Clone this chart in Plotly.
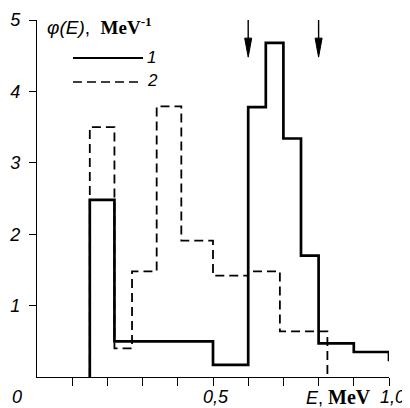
import plotly.graph_objects as go

# Histogram 1 (solid): bin edges and heights
edges1 = [0.15, 0.22, 0.50, 0.60, 0.65, 0.70, 0.75, 0.80, 0.90, 1.00]
vals1 = [2.48, 0.50, 0.17, 3.78, 4.68, 3.34, 1.70, 0.47, 0.35]
tail1 = 0.22

# Histogram 2 (dashed): bin edges and heights
edges2 = [0.15, 0.22, 0.27, 0.34, 0.41, 0.50, 0.60, 0.69, 0.825]
vals2 = [3.50, 0.40, 1.48, 3.79, 1.91, 1.42, 1.48, 0.64]

# Vertical arrows marking energies
arrow_x = [0.6, 0.8]
arrow_tip = 4.48

ytick_vals = [1, 2, 3, 4, 5]
ytick_text = ["1", "2", "3", "4", "5"]
xtick_vals = [0.1, 0.2, 0.3, 0.4, 0.5, 0.6, 0.7, 0.8, 0.9, 1.0]
xlabel_vals = [0.5, 1.0]
xlabel_text = ["0,5", "1,0"]

SANS = "Liberation Sans"
SERIF = "Liberation Serif"

# the page body adds an 8px offset; plot area spans page px 37..389 (x) and 20..377 (y)
PX0, PX1, PY0, PY1 = 37, 389, 20, 377


def px(x):
    return (x - PX0) / (PX1 - PX0)


def py(y):
    return (PY1 - y) / (PY1 - PY0)


def step_xy(edges, vals, end_y):
    xs = [edges[0]] + list(edges)
    ys = [0] + list(vals) + [end_y]
    return xs, ys


x1, y1 = step_xy(edges1, vals1, tail1)
x2, y2 = step_xy(edges2, vals2, 0)

fig = go.Figure()
fig.add_trace(go.Scatter(x=x1, y=y1, mode="lines", line_shape="hv",
                         line=dict(color="black", width=2.7),
                         showlegend=False, hoverinfo="skip", cliponaxis=False))
fig.add_trace(go.Scatter(x=x2, y=y2, mode="lines", line_shape="hv",
                         line=dict(color="black", width=1.8, dash="9px,5px"),
                         showlegend=False, hoverinfo="skip", cliponaxis=False))

annotations = []
annotations.append(dict(xref="paper", yref="paper", x=px(45), y=py(26),
                        xanchor="left", yanchor="middle", showarrow=False,
                        text="<i>φ(E)</i>,  <span style='font-family:Liberation Serif;font-size:19px'><b>MeV<sup>-1</sup></b></span>",
                        font=dict(family=SANS, size=19, color="black")))
annotations.append(dict(xref="paper", yref="paper", x=px(17), y=py(397),
                        xanchor="center", yanchor="middle", showarrow=False,
                        text="<i>0</i>", font=dict(family=SANS, size=18, color="black")))
for xv, xt in zip(xlabel_vals, xlabel_text):
    annotations.append(dict(xref="x", yref="paper", x=xv, y=py(397),
                            xanchor="center", yanchor="middle", showarrow=False, xshift=3,
                            text="<i>" + xt + "</i>", font=dict(family=SANS, size=18, color="black")))
annotations.append(dict(xref="paper", yref="paper", x=px(373), y=py(397),
                        xanchor="right", yanchor="middle", showarrow=False,
                        text="<i>E</i>, <span style='font-family:Liberation Serif;font-size:20px'><b>MeV</b></span>",
                        font=dict(family=SANS, size=18, color="black")))
# legend labels
annotations.append(dict(xref="paper", yref="paper", x=px(145), y=py(58),
                        xanchor="left", yanchor="middle", showarrow=False,
                        text="<i>1</i>", font=dict(family=SANS, size=17, color="black")))
annotations.append(dict(xref="paper", yref="paper", x=px(145), y=py(81),
                        xanchor="left", yanchor="middle", showarrow=False,
                        text="<i>2</i>", font=dict(family=SANS, size=17, color="black")))

shapes = [
    dict(type="line", xref="paper", yref="paper",
         x0=px(73), x1=px(143), y0=py(58), y1=py(58),
         line=dict(color="black", width=1.8)),
    dict(type="line", xref="paper", yref="paper",
         x0=px(73), x1=px(143), y0=py(82), y1=py(82),
         line=dict(color="black", width=1.5, dash="9px,5px")),
]
# arrows (pixel-sized paths anchored at data positions)
for ax_ in arrow_x:
    shapes.append(dict(type="path", xref="x", yref="y", xsizemode="pixel", ysizemode="pixel",
                       xanchor=ax_, yanchor=arrow_tip,
                       path="M0,0 L-3.5,19 L3.5,19 Z",
                       fillcolor="black", line=dict(color="black", width=1)))
    shapes.append(dict(type="path", xref="x", yref="y", xsizemode="pixel", ysizemode="pixel",
                       xanchor=ax_, yanchor=arrow_tip,
                       path="M0,15 L0,39",
                       line=dict(color="black", width=1.4)))

fig.update_layout(
    width=402, height=400,
    margin=dict(l=PX0 - 8, r=402 - (PX1 - 8), t=PY0 - 8, b=400 - (PY1 - 8), pad=0, autoexpand=False),
    paper_bgcolor="white", plot_bgcolor="white",
    annotations=annotations, shapes=shapes,
    xaxis=dict(range=[0, 1.0], showgrid=False, zeroline=False, automargin=False,
               showline=True, linecolor="black", linewidth=1.4,
               ticks="outside", ticklen=8, tickwidth=1.2, tickcolor="black",
               tickvals=xtick_vals, showticklabels=False,
               fixedrange=True),
    yaxis=dict(range=[0, 5], showgrid=False, zeroline=False, automargin=False,
               showline=True, linecolor="black", linewidth=1.3,
               ticks="outside", ticklen=7, tickwidth=1.2, tickcolor="black",
               tickvals=ytick_vals, ticktext=ytick_text, ticklabelstandoff=5,
               tickfont=dict(family=SANS, size=18, color="black", style="italic"),
               fixedrange=True),
)

fig.write_html("out.html")
